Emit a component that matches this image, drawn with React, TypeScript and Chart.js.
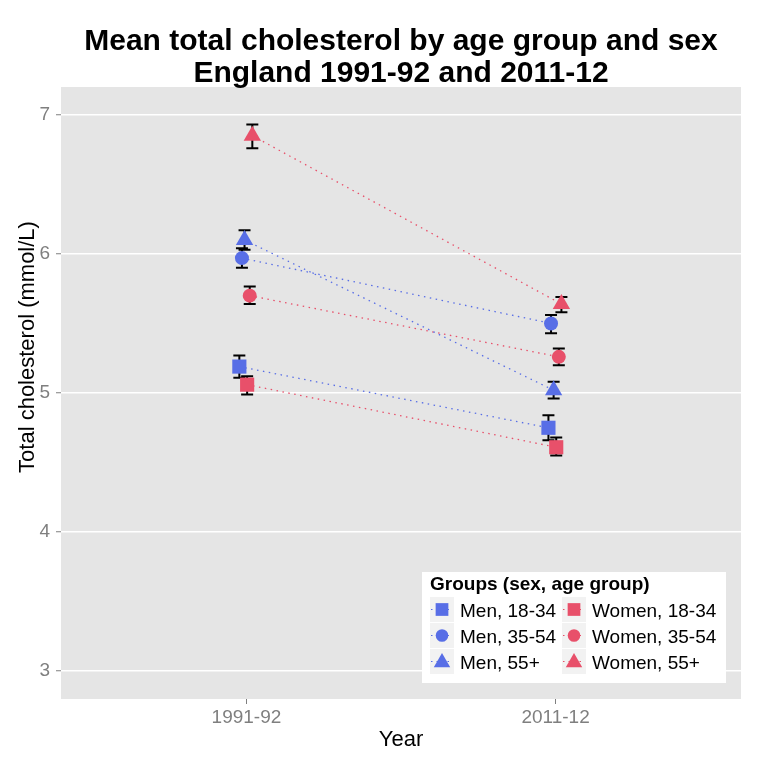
import React, { useEffect, useRef } from 'react';
import { Chart, registerables } from 'chart.js';

Chart.register(...registerables);

const years = ['1991-92', '2011-12'];
const yTicks = [3, 4, 5, 6, 7];
const groupLabels = ['Men, 18-34', 'Men, 35-54', 'Men, 55+', 'Women, 18-34', 'Women, 35-54', 'Women, 55+'];
const groupSex = ['Men', 'Men', 'Men', 'Women', 'Women', 'Women'];
const groupShapes = ['rect', 'circle', 'triangle', 'rect', 'circle', 'triangle'];

const meanMen1834 = [5.19, 4.75];
const lowMen1834 = [5.11, 4.66];
const highMen1834 = [5.27, 4.84];

const meanMen3554 = [5.97, 5.5];
const lowMen3554 = [5.9, 5.43];
const highMen3554 = [6.04, 5.56];

const meanMen55 = [6.1, 5.02];
const lowMen55 = [6.03, 4.96];
const highMen55 = [6.17, 5.08];

const meanWomen1834 = [5.06, 4.61];
const lowWomen1834 = [4.99, 4.55];
const highWomen1834 = [5.12, 4.68];

const meanWomen3554 = [5.7, 5.26];
const lowWomen3554 = [5.64, 5.2];
const highWomen3554 = [5.765, 5.32];

const meanWomen55 = [6.85, 5.64];
const lowWomen55 = [6.76, 5.58];
const highWomen55 = [6.93, 5.69];

const means = [meanMen1834, meanMen3554, meanMen55, meanWomen1834, meanWomen3554, meanWomen55];
const lows = [lowMen1834, lowMen3554, lowMen55, lowWomen1834, lowWomen3554, lowWomen55];
const highs = [highMen1834, highMen3554, highMen55, highWomen1834, highWomen3554, highWomen55];

const FONT = "'Liberation Sans', Arial, Helvetica, sans-serif";
const BLUE = '#586EE6';
const RED = '#E8506A';
const colorOf = (i: number) => (groupSex[i] === 'Men' ? BLUE : RED);
const radiusOf = (s: string) => (s === 'rect' ? 10 : s === 'circle' ? 7 : 10);
const DODGE = 0.0084;
const xOf = (i: number, j: number) => j + (i - 2.5) * DODGE - 0.002;

function drawShape(ctx: CanvasRenderingContext2D, shape: string, x0: number, y0: number, r: number) {
  ctx.beginPath();
  if (shape === 'rect') {
    const s = r * Math.SQRT1_2;
    ctx.rect(x0 - s, y0 - s, 2 * s, 2 * s);
  } else if (shape === 'circle') {
    ctx.arc(x0, y0, r, 0, Math.PI * 2);
  } else {
    ctx.moveTo(x0, y0 - r);
    ctx.lineTo(x0 + r * Math.sin((2 * Math.PI) / 3), y0 - r * Math.cos((2 * Math.PI) / 3));
    ctx.lineTo(x0 + r * Math.sin((4 * Math.PI) / 3), y0 - r * Math.cos((4 * Math.PI) / 3));
    ctx.closePath();
  }
  ctx.fill();
}

const decorPlugin = {
  id: 'decor',
  beforeDraw(chart: any) {
    const { ctx, chartArea } = chart;
    ctx.save();
    ctx.fillStyle = '#ffffff';
    ctx.fillRect(0, 0, chart.width, chart.height);
    ctx.fillStyle = '#E5E5E5';
    ctx.fillRect(chartArea.left, chartArea.top, chartArea.right - chartArea.left, chartArea.bottom - chartArea.top);
    ctx.restore();
  },
  beforeDatasetsDraw(chart: any) {
    const { ctx } = chart;
    const xs = chart.scales.x;
    const ys = chart.scales.y;
    ctx.save();
    ctx.strokeStyle = '#000000';
    ctx.lineWidth = 2;
    ctx.lineCap = 'butt';
    for (let i = 0; i < means.length; i++) {
      for (let j = 0; j < years.length; j++) {
        const px = xs.getPixelForValue(xOf(i, j));
        const yl = ys.getPixelForValue(lows[i][j]);
        const yh = ys.getPixelForValue(highs[i][j]);
        ctx.beginPath();
        ctx.moveTo(px, yl);
        ctx.lineTo(px, yh);
        ctx.moveTo(px - 6, yl);
        ctx.lineTo(px + 6, yl);
        ctx.moveTo(px - 6, yh);
        ctx.lineTo(px + 6, yh);
        ctx.stroke();
      }
    }
    ctx.restore();
  },
  afterDraw(chart: any) {
    const { ctx, chartArea } = chart;
    const cx = (chartArea.left + chartArea.right) / 2;
    ctx.save();
    ctx.fillStyle = '#000000';
    ctx.textAlign = 'center';
    ctx.textBaseline = 'alphabetic';
    ctx.font = `bold 30px ${FONT}`;
    ctx.fillText('Mean total cholesterol by age group and sex', cx, 50);
    ctx.fillText('England 1991-92 and 2011-12', cx, 82);

    ctx.font = `22px ${FONT}`;
    ctx.fillText('Year', cx, 746);
    ctx.save();
    ctx.translate(34, 347);
    ctx.rotate(-Math.PI / 2);
    ctx.fillText('Total cholesterol (mmol/L)', 0, 0);
    ctx.restore();

    // legend
    const lx = 422, ly = 572, lw = 304, lh = 111;
    ctx.fillStyle = '#ffffff';
    ctx.fillRect(lx, ly, lw, lh);
    ctx.fillStyle = '#000000';
    ctx.textAlign = 'left';
    ctx.font = `bold 19px ${FONT}`;
    ctx.fillText('Groups (sex, age group)', 430, 590);
    ctx.font = `19px ${FONT}`;
    const colKeyX = [430, 562];
    const rowTop = [597, 623, 649];
    for (let i = 0; i < groupLabels.length; i++) {
      const col = i < 3 ? 0 : 1;
      const row = i % 3;
      const kx = colKeyX[col];
      const ky = rowTop[row];
      const kw = 24, kh = 25;
      ctx.fillStyle = '#F2F2F2';
      ctx.fillRect(kx, ky, kw, kh);
      const c = colorOf(i);
      ctx.save();
      ctx.strokeStyle = c;
      ctx.lineWidth = 1.2;
      ctx.setLineDash([1.5, 4]);
      ctx.beginPath();
      ctx.moveTo(kx + 1, ky + kh / 2);
      ctx.lineTo(kx + kw - 1, ky + kh / 2);
      ctx.stroke();
      ctx.restore();
      ctx.fillStyle = c;
      const shape = groupShapes[i];
      const r = shape === 'rect' ? 9 : shape === 'circle' ? 6.3 : 9.5;
      drawShape(ctx, shape, kx + kw / 2, ky + kh / 2 + (shape === 'triangle' ? 1 : 0), r);
      ctx.fillStyle = '#000000';
      ctx.fillText(groupLabels[i], kx + 30, ky + kh / 2 + 7);
    }
    ctx.restore();
  },
};

export default function App() {
  const ref = useRef<HTMLCanvasElement | null>(null);
  useEffect(() => {
    if (!ref.current) return;
    const datasets = groupLabels.map((label, i) => ({
      label,
      data: years.map((_, j) => ({ x: xOf(i, j), y: means[i][j] })),
      showLine: true,
      borderColor: colorOf(i),
      borderWidth: 1.3,
      borderDash: [1.5, 4.5],
      borderCapStyle: 'butt' as const,
      backgroundColor: colorOf(i),
      pointBackgroundColor: colorOf(i),
      pointBorderWidth: 0,
      pointBorderColor: colorOf(i),
      pointStyle: groupShapes[i] as any,
      pointRadius: radiusOf(groupShapes[i]),
      pointHoverRadius: radiusOf(groupShapes[i]),
      fill: false,
    }));
    const chart = new Chart(ref.current, {
      type: 'scatter',
      data: { datasets },
      options: {
        animation: false,
        responsive: false,
        devicePixelRatio: 1,
        layout: { padding: { left: 0, top: 87, right: 22, bottom: 0 } },
        plugins: { legend: { display: false }, tooltip: { enabled: false }, title: { display: false } },
        scales: {
          x: {
            type: 'linear',
            min: -0.6,
            max: 1.6,
            afterBuildTicks: (s: any) => {
              s.ticks = years.map((_, j) => ({ value: j }));
            },
            afterFit: (s: any) => {
              s.height = 64;
            },
            ticks: {
              color: '#7F7F7F',
              font: { family: FONT, size: 19 },
              padding: 2,
              maxRotation: 0,
              autoSkip: false,
              callback: (v: any) => years[Math.round(Number(v))] ?? '',
            },
            grid: { drawOnChartArea: false, drawTicks: true, tickColor: '#7F7F7F', tickLength: 5, tickWidth: 1 },
            border: { display: false },
          },
          y: {
            type: 'linear',
            min: 2.8,
            max: 7.2,
            afterBuildTicks: (s: any) => {
              s.ticks = yTicks.map((v) => ({ value: v }));
            },
            afterFit: (s: any) => {
              s.width = 61;
            },
            ticks: {
              color: '#7F7F7F',
              font: { family: FONT, size: 19 },
              padding: 6,
              callback: (v: any) => String(v),
            },
            grid: { color: '#FFFFFF', lineWidth: 1.5, drawTicks: true, tickColor: '#7F7F7F', tickLength: 5, tickWidth: 1 },
            border: { display: false },
          },
        },
      },
      plugins: [decorPlugin],
    });
    return () => chart.destroy();
  }, []);
  return (
    <div style={{ position: 'absolute', left: 0, top: 0, width: 763, height: 763, background: '#fff' }}>
      <canvas ref={ref} width={763} height={763} style={{ display: 'block', width: 763, height: 763 }} />
    </div>
  );
}
